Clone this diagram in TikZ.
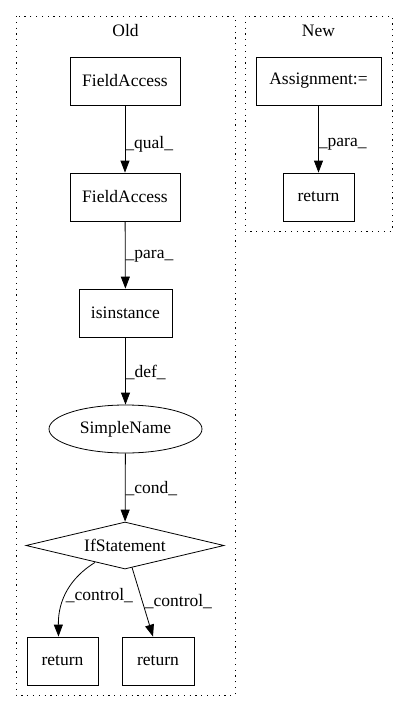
\documentclass[tikz,border=0pt]{standalone}
\usepackage{fontspec}
\setmainfont{Liberation Serif}
\usetikzlibrary{shapes.geometric,arrows.meta}
\begin{document}
\begin{tikzpicture}[x=1pt,y={(0pt,-1pt)},
  every node/.style={font=\fontsize{17.5}{20}\selectfont},
  box/.style={draw,line width=0.8pt,minimum height=48pt,inner sep=0pt},
  arr/.style={line width=0.8pt,-{Triangle[length=12pt,width=9pt]}},
  lbl/.style={anchor=west,inner sep=0pt},
  clus/.style={line width=0.9pt,dash pattern=on 1.2pt off 4.6pt}]
\useasboundingbox (0,0) rectangle (408,712);
% clusters
\draw[clus] (16,16) rectangle (235,695);
\draw[clus] (245,16) rectangle (392,231);
\node (oldt) at (125.5,31) {Old};
\node (newt) at (318.5,31) {New};
% old nodes
\node[box,minimum width=110pt] (fa1) at (125,81) {FieldAccess};
\node[box,minimum width=110pt] (fa2) at (125,197) {FieldAccess};
\node[box,minimum width=93pt] (isi) at (125.5,313) {isinstance};
\node[draw,line width=0.8pt,ellipse,minimum width=153pt,minimum height=48pt,inner sep=0pt] (sn) at (125.5,429) {SimpleName};
\node[draw,line width=0.8pt,diamond,aspect=4.2,minimum width=198pt,minimum height=47pt,inner sep=0pt] (ifs) at (125,545.5) {IfStatement};
\node[box,minimum width=71pt] (r1) at (62.5,661) {return};
\node[box,minimum width=72pt] (r2) at (158,661) {return};
% new nodes
\node[box,minimum width=125pt] (asg) at (318.5,81) {Assignment:=};
\node[box,minimum width=71pt] (r3) at (318.5,197) {return};
% edges
\draw[arr] (fa1) -- node[lbl,pos=0.58]{\_qual\_} (fa2);
\draw[arr] (fa2) -- node[lbl,pos=0.52]{\_para\_} (isi);
\draw[arr] (isi) -- node[lbl,pos=0.52]{\_def\_} (sn);
\draw[arr] (sn) -- node[lbl,pos=0.52]{\_cond\_} (ifs);
\draw[arr] ([shift={(-30,-7)}]ifs.south) .. controls (70,578) and (58,600) .. node[lbl,pos=0.55]{\_control\_} ([xshift=-4pt]r1.north);
\draw[arr] ([shift={(7,-2)}]ifs.south) -- node[lbl,pos=0.5,xshift=2pt]{\_control\_} ([xshift=-5pt]r2.north);
\draw[arr] (asg) -- node[lbl,pos=0.58]{\_para\_} (r3);
\end{tikzpicture}
\end{document}
